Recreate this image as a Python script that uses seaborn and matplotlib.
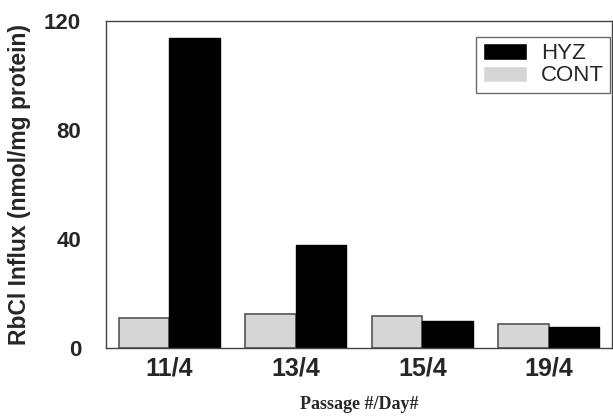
import numpy as np
import pandas as pd
import matplotlib
matplotlib.use("Agg")
import matplotlib.pyplot as plt
import seaborn as sns

# values
passages = ["11/4", "13/4", "15/4", "19/4"]
hyz_vals = [113.8, 37.8, 9.9, 7.8]
cont_vals = [10.9, 12.3, 11.9, 8.9]

HYZ_COLOR = "#000000"
CONT_COLOR = "#d6d6d6"

df = pd.DataFrame({
    "passage": passages * 2,
    "influx": cont_vals + hyz_vals,
    "group": ["CONT"] * len(passages) + ["HYZ"] * len(passages),
})

sns.set_style("white")
plt.rcParams["font.family"] = ["Liberation Sans", "DejaVu Sans"]

fig = plt.figure(figsize=(6.13, 4.16), dpi=100)
ax = fig.add_axes([106 / 613, 68 / 416, 506 / 613, 327 / 416])

sns.barplot(data=df, x="passage", y="influx", hue="group",
            hue_order=["CONT", "HYZ"], order=passages,
            palette={"CONT": CONT_COLOR, "HYZ": HYZ_COLOR},
            width=0.8, saturation=1, ax=ax)

# CONT bars get a dark grey outline
for bar in ax.containers[0]:
    bar.set_edgecolor("#555555")
    bar.set_linewidth(1.2)
for bar in ax.containers[1]:
    bar.set_edgecolor("#000000")

ax.set_xlim(-0.5, 3.5)
ax.set_ylim(0, 120)
ax.set_yticks([0, 40, 80, 120])

for s in ax.spines.values():
    s.set_color("#444444")
    s.set_linewidth(1.0)

ax.tick_params(axis="y", direction="in", length=4, width=1, color="#444444",
               pad=18, labelsize=16)
ax.tick_params(axis="x", length=0, pad=6, labelsize=18)
for lab in ax.get_xticklabels() + ax.get_yticklabels():
    lab.set_fontweight("bold")

ax.set_ylabel("RbCl Influx (nmol/mg protein)", fontsize=16.5, fontweight="bold",
              labelpad=9)
ax.set_xlabel("Passage #/Day#", fontsize=13, fontweight="bold",
              family="Liberation Serif", labelpad=11)

handles, labels = ax.get_legend_handles_labels()
leg = ax.legend(handles[::-1], labels[::-1], loc="upper right",
                bbox_to_anchor=(0.997, 0.952), fontsize=16, frameon=True,
                fancybox=False, edgecolor="#444444", handlelength=2.0,
                handleheight=0.75, borderpad=0.3, labelspacing=0.05,
                handletextpad=0.6, borderaxespad=0.0)
leg.get_frame().set_linewidth(1.0)

fig.savefig("out.png", dpi=100)
